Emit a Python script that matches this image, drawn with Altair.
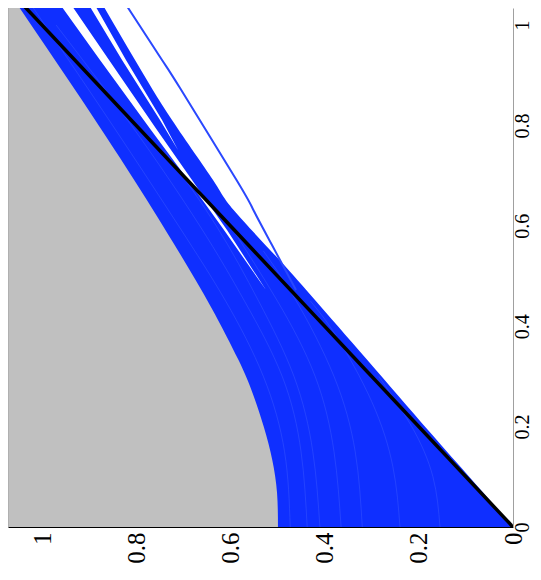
import altair as alt
import pandas as pd

# Chart is drawn rotated: vertical position = "xv" (right axis), horizontal = "yv" (bottom axis, reversed)
XV_MAX = 1.034   # top of plot (vertical domain)
YV_MAX = 1.0722  # left edge of plot (horizontal domain, reversed)
tick_vals = [0, 0.2, 0.4, 0.6, 0.8, 1]

# lower envelope of the trajectories (boundary of the grey region)
env_x = [0.0, 0.068, 0.133, 0.199, 0.267, 0.333, 0.438, 0.552, 0.691, 0.871, 1.05]
env_y = [0.499, 0.501, 0.511, 0.529, 0.553, 0.583, 0.641, 0.712, 0.804, 0.930, 1.059]

# outer edge of the blue bundle (right of the diagonal)
edge_x = [0.0, 0.0936, 0.1932, 0.3327, 0.4522, 0.5319, 0.6315, 0.6912, 0.8108, 0.9303, 1.0498]
edge_y = [0.0, 0.0870, 0.1805, 0.3093, 0.4204, 0.4958, 0.5932, 0.6369, 0.7240, 0.8025, 0.8769]

# white gaps between bundles
gap1_x = [0.4721, 0.5916, 0.6912, 0.7908, 0.9303, 1.0498]
gap1_lo = [0.5244, 0.6072, 0.6815, 0.7558, 0.8577, 0.9448]
gap1_hi = [0.5244, 0.6136, 0.6900, 0.7686, 0.8769, 0.9682]

gap2_x = [0.7510, 0.8108, 0.9303, 1.0498]
gap2_lo = [0.7113, 0.7452, 0.8217, 0.8938]
gap2_hi = [0.7113, 0.7495, 0.8301, 0.9066]

# single stray trajectory
stray_x = [0.4721, 0.5618, 0.6315, 0.6912, 0.8745, 0.9303, 1.0498]
stray_y = [0.4607, 0.5117, 0.5512, 0.5870, 0.7070, 0.7452, 0.8280]

# faint seams between individual trajectories inside the bundle
seam1_x = [0.0, 0.10, 0.20, 0.30]
seam1_y = [0.155, 0.170, 0.215, 0.285]
seam2_x = [0.0, 0.12, 0.25, 0.38, 0.45]
seam2_y = [0.240, 0.255, 0.300, 0.375, 0.430]
seam3_x = [0.0, 0.15, 0.30, 0.45, 0.55]
seam3_y = [0.320, 0.335, 0.380, 0.460, 0.530]
seam4_x = [0.0, 0.15, 0.30, 0.45, 0.60]
seam4_y = [0.365, 0.380, 0.420, 0.500, 0.600]
seam5_x = [0.0, 0.15, 0.30, 0.45, 0.60, 0.75]
seam5_y = [0.410, 0.425, 0.465, 0.540, 0.630, 0.740]
seam6_x = [0.0, 0.15, 0.30, 0.45, 0.60, 0.80, 1.00]
seam6_y = [0.437, 0.450, 0.490, 0.570, 0.665, 0.810, 0.970]
seam7_x = [0.0, 0.15, 0.30, 0.45, 0.60, 0.80, 1.05]
seam7_y = [0.473, 0.485, 0.530, 0.610, 0.710, 0.850, 1.030]

# diagonal reference line
diag_x = [0.0, 1.05]
diag_y = [0.0, 1.05]

FONT = "Liberation Serif"
BLUE = "#0f2fff"

xscale = alt.Scale(domain=[0, YV_MAX], reverse=True, nice=False, zero=False)
yscale = alt.Scale(domain=[0, XV_MAX], nice=False, zero=False)
xaxis = alt.Axis(values=tick_vals, format="~g", orient="bottom", labelAngle=-90,
                 labelAlign="right", labelBaseline="middle", labelPadding=5,
                 ticks=False, grid=False, domainColor="#000000", domainWidth=1,
                 labelFont=FONT, labelFontSize=25, labelColor="#000000", title=None,
                 labelFlush=False, labelOverlap=False)
yaxis = alt.Axis(values=tick_vals, format="~g", orient="right", labelAngle=-90,
                 labelAlign="center", labelBaseline="top", labelPadding=-1,
                 ticks=False, grid=False, domainColor="#a0a0a0", domainWidth=1,
                 labelFont=FONT, labelFontSize=20, labelColor="#000000", title=None,
                 labelFlush=False, labelOverlap=False)

X = lambda f: alt.X(f, type="quantitative", scale=xscale, axis=xaxis)
Y = lambda f: alt.Y(f, type="quantitative", scale=yscale, axis=yaxis)

env_df = pd.DataFrame({"xv": env_x, "yv": env_y, "edge": [YV_MAX] * len(env_x)})
edge_df = pd.DataFrame({"xv": edge_x, "yv": edge_y, "edge": [YV_MAX] * len(edge_x)})
gap1_df = pd.DataFrame({"xv": gap1_x, "yv": gap1_lo, "yv2": gap1_hi})
gap2_df = pd.DataFrame({"xv": gap2_x, "yv": gap2_lo, "yv2": gap2_hi})
stray_df = pd.DataFrame({"xv": stray_x, "yv": stray_y})
diag_df = pd.DataFrame({"xv": diag_x, "yv": diag_y})
border_df = pd.DataFrame({"yv": [YV_MAX]})

seams = [(seam1_x, seam1_y), (seam2_x, seam2_y), (seam3_x, seam3_y), (seam4_x, seam4_y),
         (seam5_x, seam5_y), (seam6_x, seam6_y), (seam7_x, seam7_y)]
seam_df = pd.concat([pd.DataFrame({"xv": sx, "yv": sy, "sid": i}) for i, (sx, sy) in enumerate(seams)],
                    ignore_index=True)

blue_area = alt.Chart(edge_df).mark_area(orient="horizontal", color=BLUE, clip=True,
                                         interpolate="natural").encode(
    y=Y("xv"), x=X("yv"), x2=alt.X2("edge"))
grey_area = alt.Chart(env_df).mark_area(orient="horizontal", color="#c0c0c0", clip=True,
                                        interpolate="natural").encode(
    y=Y("xv"), x=X("yv"), x2=alt.X2("edge"))
seam_lines = alt.Chart(seam_df).mark_line(color="#4a66ff", strokeWidth=0.7, opacity=0.5, clip=True,
                                          interpolate="natural").encode(
    y=Y("xv"), x=X("yv"), detail="sid:N", order=alt.Order("xv:Q"))
gap1 = alt.Chart(gap1_df).mark_area(orient="horizontal", color="#ffffff", clip=True).encode(
    y=Y("xv"), x=X("yv"), x2=alt.X2("yv2"))
gap2 = alt.Chart(gap2_df).mark_area(orient="horizontal", color="#ffffff", clip=True).encode(
    y=Y("xv"), x=X("yv"), x2=alt.X2("yv2"))
stray = alt.Chart(stray_df).mark_line(color="#2a48ff", strokeWidth=2, clip=True,
                                      interpolate="natural").encode(
    y=Y("xv"), x=X("yv"), order=alt.Order("xv:Q"))
diag = alt.Chart(diag_df).mark_line(color="#000000", strokeWidth=3.5, clip=True).encode(
    y=Y("xv"), x=X("yv"), order=alt.Order("xv:Q"))
border = alt.Chart(border_df).mark_rule(color="#a0a0a0", strokeWidth=1).encode(x=X("yv"))

chart = alt.layer(blue_area, grey_area, seam_lines, gap1, gap2, stray, diag, border).properties(
    width=505, height=519,
    autosize=alt.AutoSizeParams(type="none"),
    padding={"left": 0, "top": 0, "right": 20, "bottom": 40},
    background="#ffffff",
).configure_view(strokeWidth=0)

chart.save("out.html", embed_options={"renderer": "svg", "actions": False})
